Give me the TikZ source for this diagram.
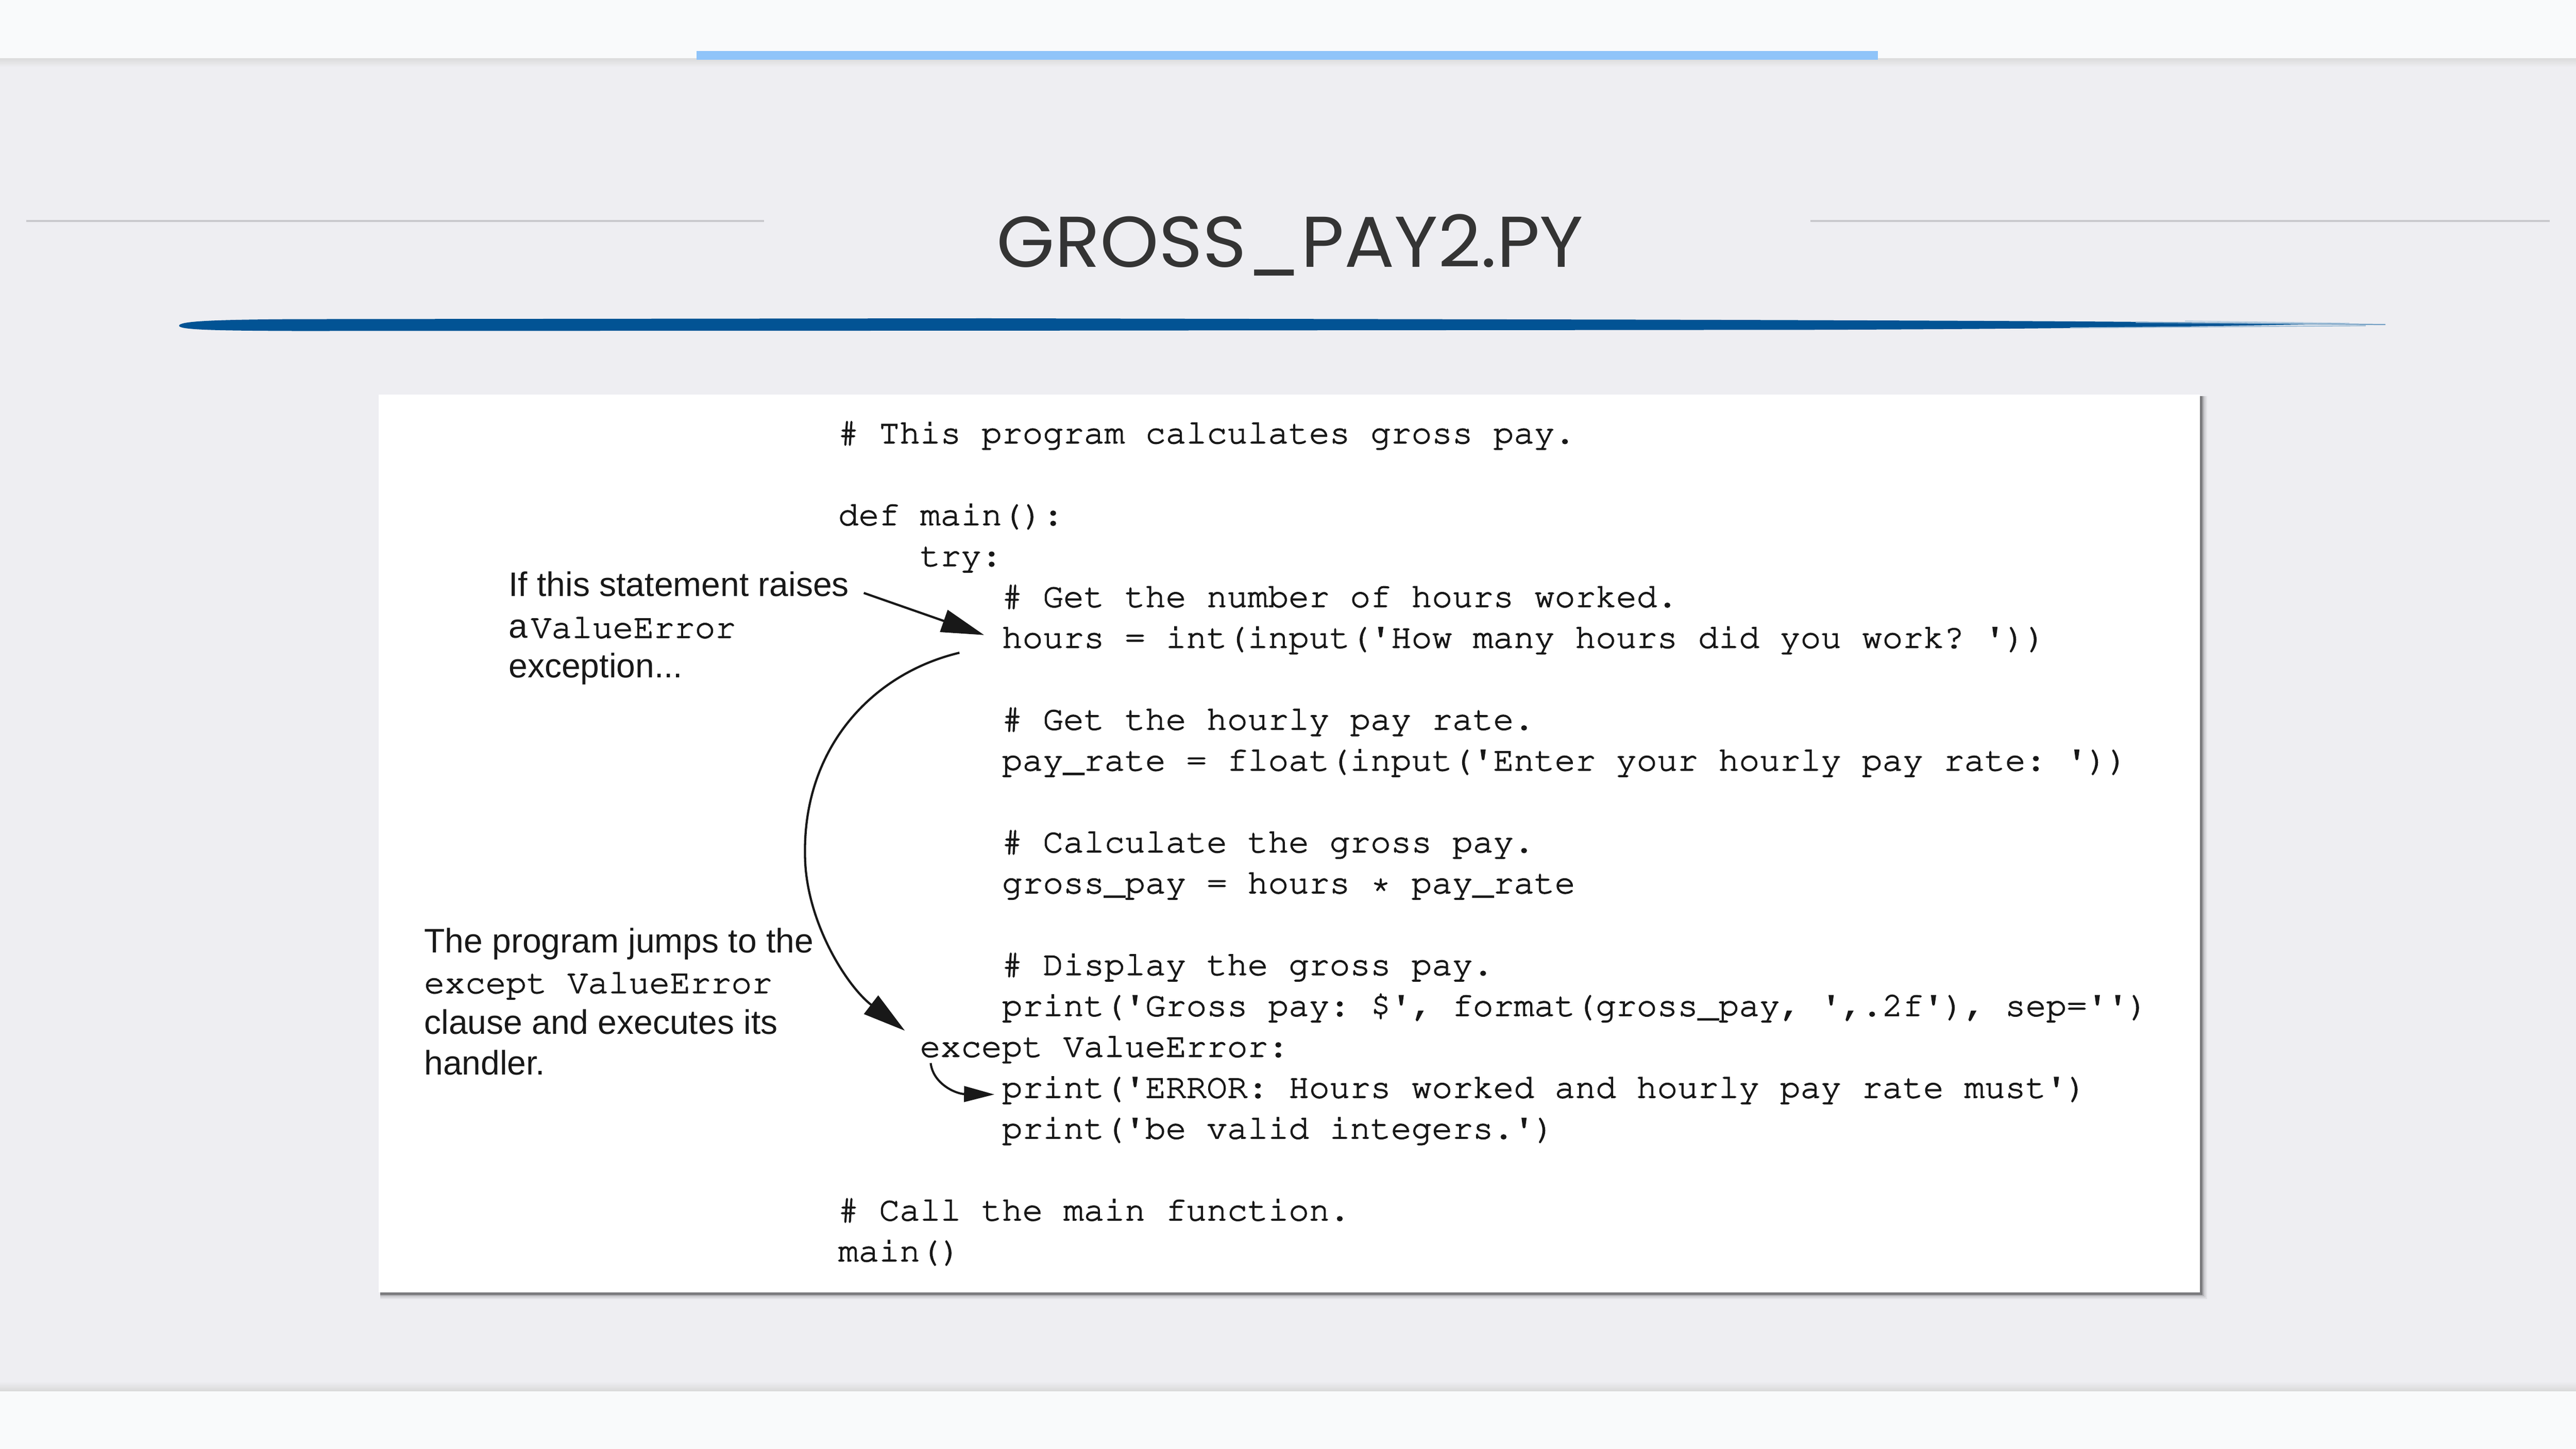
\documentclass[tikz,border=0pt]{standalone}
\usepackage[T1,TU]{fontenc}
\usepackage{fontspec}
\setmainfont{Liberation Sans}
\newfontfamily\titlefont{Poppins}
\usetikzlibrary{arrows.meta,calc}
\definecolor{slidebg}{RGB}{238,238,242}
\definecolor{stripbg}{RGB}{249,250,251}
\definecolor{barblue}{RGB}{144,196,249}
\definecolor{rulegray}{RGB}{201,201,205}
\definecolor{titlegray}{RGB}{52,52,52}
\definecolor{brushblue}{RGB}{2,83,148}
\definecolor{inkblack}{RGB}{24,24,24}
\newcommand\cour{\fontencoding{T1}\fontfamily{pcr}\fontseries{m}\fontshape{n}\fontsize{20.77}{24.9}\selectfont\frenchspacing}
\newcommand\q{\textquotesingle}
\newcommand\heavy{\special{pdf:code 2 Tr 0.45 w}}
\newcommand\unheavy{\special{pdf:code 0 Tr}}
\tikzset{
  codeline/.style={anchor=base west, inner sep=0pt, text=inkblack, font=\cour,
    execute at begin node=\heavy, execute at end node=\unheavy},
  annline/.style={anchor=base west, inner sep=0pt, text=inkblack, font=\fontsize{20.7}{24.8}\selectfont},
  bigarrow/.style={line width=1.35pt, draw=inkblack, -{Triangle[length=26pt,width=14pt]}},
  smallarrow/.style={line width=1.3pt, draw=inkblack, -{Triangle[length=18.5pt,width=9.5pt]}}
}
\begin{document}
\begin{tikzpicture}[x=1pt,y=-1pt]
\useasboundingbox (0,0) rectangle (1568,882);
% background
\fill[slidebg] (0,0) rectangle (1568,882);
% top strip and its shadow
\shade[top color=black!14, bottom color=slidebg] (0,35.5) rectangle (1568,41);
\fill[stripbg] (0,0) rectangle (1568,35.5);
\fill[barblue] (424,31) rectangle (1143,36.5);
% bottom strip and its shadow
\shade[top color=slidebg, bottom color=black!15] (0,841) rectangle (1568,847);
\fill[stripbg] (0,847) rectangle (1568,882);
% title rules
\draw[rulegray, line width=1.2pt] (16,134.5) -- (465,134.5);
\draw[rulegray, line width=1.2pt] (1102,134.5) -- (1552,134.5);
% title
\node[anchor=base, inner sep=0pt, text=titlegray] (title) at (785.3,162.5)
  {\resizebox{357pt}{32.2pt}{\titlefont GROSS\_PAY2.PY}};
% brush stroke
\fill[brushblue] (109,198.3) .. controls (109,195.5) and (130,194.6) .. (180,194.3)
  -- (600,193.8) -- (1000,194.6) .. controls (1200,195.2) and (1330,195.8) .. (1418,197.3)
  .. controls (1330,198.9) and (1250,200.3) .. (1100,200.8) -- (600,201.3) -- (180,201.5)
  .. controls (130,201.3) and (109,200.8) .. (109,198.3) -- cycle;
\draw[brushblue!55, line width=0.7pt] (1300,196.2) -- (1452,197.6);
\draw[brushblue!40, line width=0.6pt] (1260,199.6) -- (1440,198.3);
\draw[brushblue!30, line width=0.5pt] (1330,195.4) -- (1430,196.8);
% box shadow
\foreach \d/\o in {4.2/0.05,3.2/0.08,2.3/0.14,1.5/0.3}{
  \fill[black,opacity=\o] (231.5,241.3) rectangle (1339.2+\d,786.8+\d);
}
\fill[white] (230.5,240.3) rectangle (1339.2,786.8);
% code
\node[codeline] (l0) at (510,269.9) {\#~This program calculates gross pay.};
\node[codeline] (ldef) at (510,319.7) {def main():};
\node[codeline] (ltry) at (559.8,344.6) {try:};
\node[codeline] (lc1) at (609.7,369.5) {\#~Get the number of hours worked.};
\node[codeline] (lhours) at (609.7,394.4) {hours = int(input(\q How many hours did you work? \q))};
\node[codeline] (lc2) at (609.7,444.2) {\#~Get the hourly pay rate.};
\node[codeline] (lpay) at (609.7,469.1) {pay\_rate = float(input(\q Enter your hourly pay rate: \q))};
\node[codeline] (lc3) at (609.7,518.9) {\#~Calculate the gross pay.};
\node[codeline] (lgross) at (609.7,543.8) {gross\_pay = hours * pay\_rate};
\node[codeline] (lc4) at (609.7,593.6) {\#~Display the gross pay.};
\node[codeline] (lprint) at (609.7,618.5) {print(\q Gross pay: \$\q, format(gross\_pay, \q,.2f\q), sep=\q\q)};
\node[codeline] (lexcept) at (559.8,643.4) {except ValueError:};
\node[codeline] (lerr1) at (609.7,668.3) {print(\q ERROR: Hours worked and hourly pay rate must\q)};
\node[codeline] (lerr2) at (609.7,693.2) {print(\q be valid integers.\q)};
\node[codeline] (lc5) at (510,743.0) {\#~Call the main function.};
\node[codeline] (lmain) at (510,767.9) {main()};
% annotations
\node[annline] (ann1a) at (309.5,363) {If this statement raises};
\node[annline] (ann1b) at (309.5,388.3) {a\hspace{2pt}{\heavy\cour ValueError\unheavy}};
\node[annline] (ann1c) at (309.5,412.6) {exception...};
\node[annline] (ann2a) at (258,580) {The program jumps to the};
\node[annline] (ann2b) at (258,604.6) {{\heavy\cour except ValueError\unheavy}};
\node[annline] (ann2c) at (258,629.5) {clause and executes its};
\node[annline] (ann2d) at (258,654.3) {handler.};
% arrows
\draw[bigarrow] ($(ann1a.base east)+(8.8,-2)$) -- ($(lhours.base west)+(-10.7,-7.8)$);
\draw[bigarrow] ($(lhours.base west)+(-25.7,3)$) .. controls (531,410) and (489,455) .. (490,520)
  .. controls (490,560) and (515,600) .. ($(lexcept.base west)+(-9,-15.9)$);
\draw[smallarrow] ($(lexcept.base west)+(6.7,3.8)$) .. controls (568,660) and (582,666) .. ($(lerr1.base west)+(-4.4,-2)$);
\end{tikzpicture}
\end{document}
